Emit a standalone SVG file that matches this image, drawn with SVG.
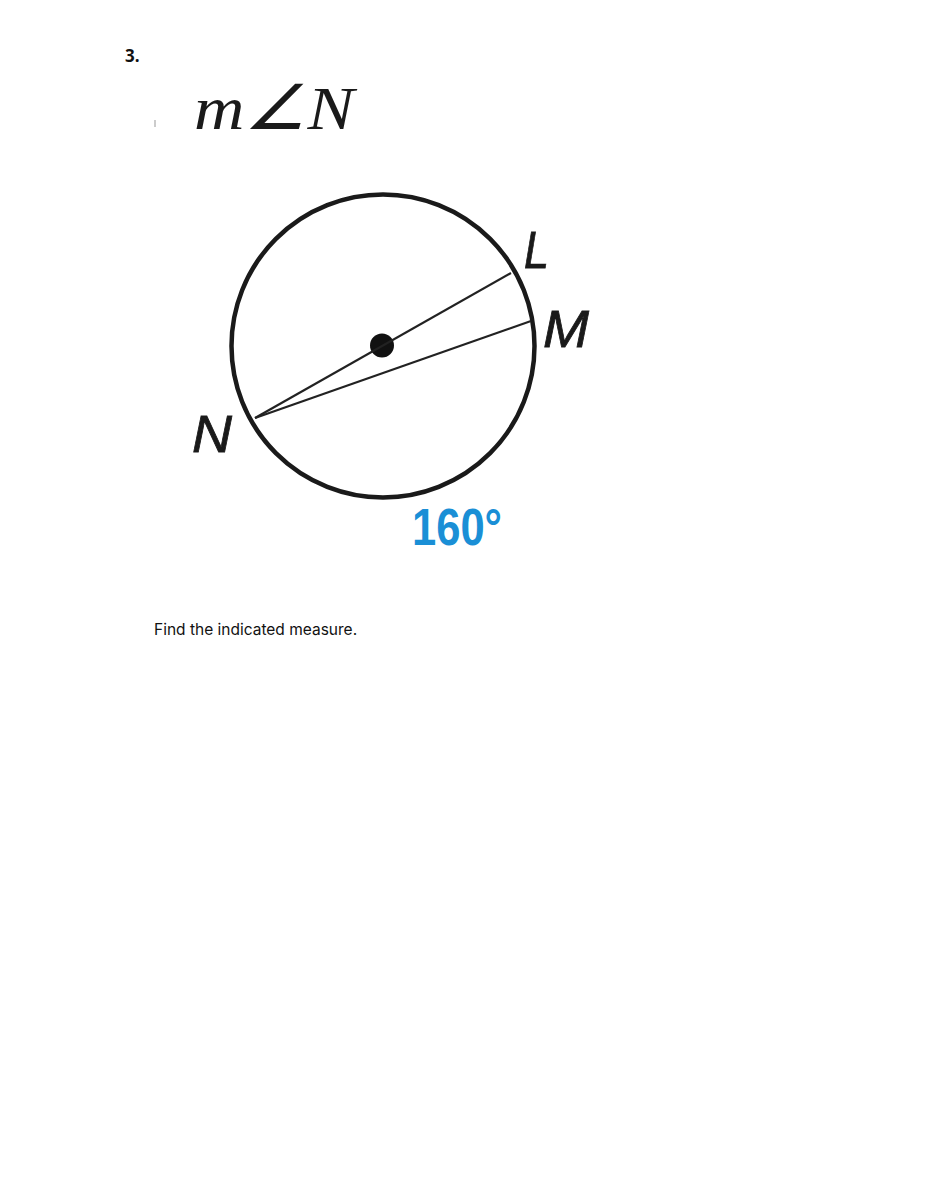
<svg xmlns="http://www.w3.org/2000/svg" width="926" height="1200" viewBox="0 0 926 1200">
<style>
.lbl{font-family:"Liberation Sans",Arial,sans-serif;font-style:italic;font-size:52px;fill:#1a1a1a;stroke:#1a1a1a;stroke-width:0.8}
.seg{stroke:#222;stroke-width:2.2;fill:none}
</style>
<rect width="926" height="1200" fill="#fff"/>
<text x="125" y="62" font-family="Open Sans, sans-serif" font-weight="bold" font-size="17" fill="#111">3.</text>
<line x1="155" y1="120" x2="155" y2="127" stroke="#999" stroke-width="1"/>
<text x="194" y="129" font-family="Liberation Serif, serif" font-style="italic" font-size="62" fill="#1a1a1a" textLength="160" lengthAdjust="spacingAndGlyphs">m∠N</text>
<g id="circle">
<circle cx="383" cy="346" r="151.5" fill="none" stroke="#1a1a1a" stroke-width="4.5"/>
<circle cx="382" cy="345.5" r="12" fill="#111"/>
</g>
<g id="connectors">
<line class="seg" x1="255" y1="418" x2="511" y2="273"/>
<line class="seg" x1="255" y1="418" x2="531" y2="321"/>
</g>
<g id="L"><text class="lbl" x="524" y="268" textLength="25" lengthAdjust="spacingAndGlyphs">L</text></g>
<g id="M"><text class="lbl" x="543" y="347" textLength="46" lengthAdjust="spacingAndGlyphs">M</text></g>
<g id="N"><text class="lbl" x="192" y="452" textLength="40" lengthAdjust="spacingAndGlyphs">N</text></g>
<g id="arc"><text x="412" y="545" font-family="Liberation Sans Narrow, Liberation Sans, Arial, sans-serif" font-weight="bold" font-size="52" fill="#1a8fd6" textLength="90" lengthAdjust="spacingAndGlyphs">160°</text></g>
<text x="154" y="635" font-family="Inter, sans-serif" font-size="15.5" fill="#111">Find the indicated measure.</text>
</svg>
